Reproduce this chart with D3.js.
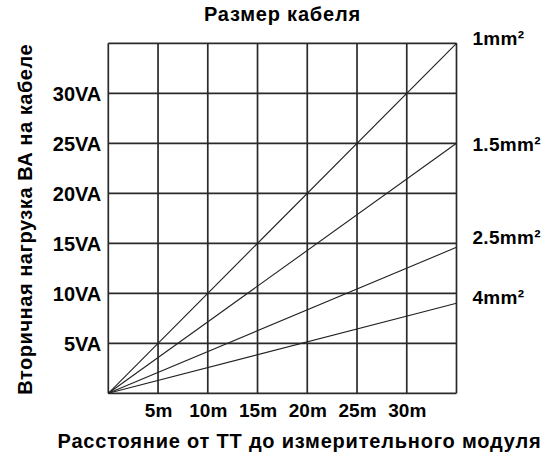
<!DOCTYPE html>
<html>
<head>
<meta charset="utf-8">
<script src="https://cdn.jsdelivr.net/npm/d3@7"></script>
<style>
    body { margin: 0; background: #fff; }
    text { font-family: "Liberation Sans", Arial, sans-serif; font-weight: bold; fill: #000; }
</style>
</head>
<body>
<div id="chart"></div>
<script>
// Chart data
var distances = [0, 35];                 // metres
var cableSizes = ["1mm²", "1.5mm²", "2.5mm²", "4mm²"];
var loads1 = [0, 35];                    // VA at 0m and 35m
var loads15 = [0, 25];
var loads25 = [0, 14.6];
var loads4 = [0, 9];
var xTickValues = [5, 10, 15, 20, 25, 30];
var yTickValues = [5, 10, 15, 20, 25, 30];
var gridValues = [0, 5, 10, 15, 20, 25, 30, 35];

var svgWidth = 554;
var svgHeight = 456;

var margins = {
    top: 43.3,
    right: 97.5,
    bottom: 62.7,
    left: 108.3
};

var width = svgWidth - margins.left - margins.right;
var height = svgHeight - margins.top - margins.bottom;

var svg = d3.select("#chart")
            .append("svg")
            .attr("width", svgWidth)
            .attr("height", svgHeight);

var chartGroup = svg.append("g")
                    .attr("transform", `translate(${margins.left}, ${margins.top})`);

var xScale = d3.scaleLinear().domain([0, 35]).range([0, width]);
var yScale = d3.scaleLinear().domain([0, 35]).range([height, 0]);

// Grid (every 5 units, edges included)
chartGroup.selectAll(".vgrid")
    .data(gridValues)
    .enter()
    .append("line")
    .attr("x1", d => xScale(d))
    .attr("x2", d => xScale(d))
    .attr("y1", 0)
    .attr("y2", height)
    .attr("stroke", "#2a2a2a")
    .attr("stroke-width", 1.7);

chartGroup.selectAll(".hgrid")
    .data(gridValues)
    .enter()
    .append("line")
    .attr("x1", 0)
    .attr("x2", width)
    .attr("y1", d => yScale(d))
    .attr("y2", d => yScale(d))
    .attr("stroke", "#2a2a2a")
    .attr("stroke-width", 1.7);

// Axes: only the tick labels are visible
var bottomAxis = d3.axisBottom(xScale)
    .tickValues(xTickValues)
    .tickSize(0)
    .tickPadding(10)
    .tickFormat(d => d + "m");

var leftAxis = d3.axisLeft(yScale)
    .tickValues(yTickValues)
    .tickSize(0)
    .tickPadding(7)
    .tickFormat(d => d + "VA");

var xAxis = chartGroup.append("g")
    .attr("transform", `translate(0, ${height})`)
    .call(bottomAxis);

var yAxis = chartGroup.append("g")
    .call(leftAxis);

[xAxis, yAxis].forEach(function(axis){
    axis.select(".domain").remove();
    axis.selectAll("text")
        .attr("fill", "#000")
        .style("font-size", "19px")
        .style("font-family", "'Liberation Sans', Arial, sans-serif")
        .style("font-weight", "bold");
});
yAxis.selectAll("text")
    .attr("dy", "0.36em")
    .style("font-size", "20px");

// Cable lines
var seriesLoads = [loads1, loads15, loads25, loads4];
var line = d3.line()
    .x((d, i) => xScale(distances[i]))
    .y(d => yScale(d));

chartGroup.selectAll(".cable")
    .data(seriesLoads)
    .enter()
    .append("path")
    .attr("d", d => line(d))
    .attr("fill", "none")
    .attr("stroke", "#222")
    .attr("stroke-width", 1.1);

// Cable size labels at the right end of each line
var labelDy = [2, 8, -3, 1];
chartGroup.selectAll(".cableLabel")
    .data(seriesLoads)
    .enter()
    .append("text")
    .attr("x", width + 16)
    .attr("y", (d, i) => yScale(d[d.length - 1]) + labelDy[i])
    .style("font-size", "19px")
    .style("letter-spacing", "0.3px")
    .text((d, i) => cableSizes[i]);

// Titles
svg.append("text")
    .attr("x", margins.left + width / 2)
    .attr("y", 21)
    .attr("text-anchor", "middle")
    .style("font-size", "20px")
    .style("letter-spacing", "0.8px")
    .text("Размер кабеля");

svg.append("text")
    .attr("x", 299.5)
    .attr("y", 448)
    .attr("text-anchor", "middle")
    .style("font-size", "20px")
    .style("letter-spacing", "0.8px")
    .text("Расстояние от ТТ до измерительного модуля");

svg.append("text")
    .attr("transform", `translate(32, ${margins.top + height / 2 + 1}) rotate(-90)`)
    .attr("text-anchor", "middle")
    .style("font-size", "20px")
    .style("letter-spacing", "0.55px")
    .text("Вторичная нагрузка ВА на кабеле");
</script>
</body>
</html>
